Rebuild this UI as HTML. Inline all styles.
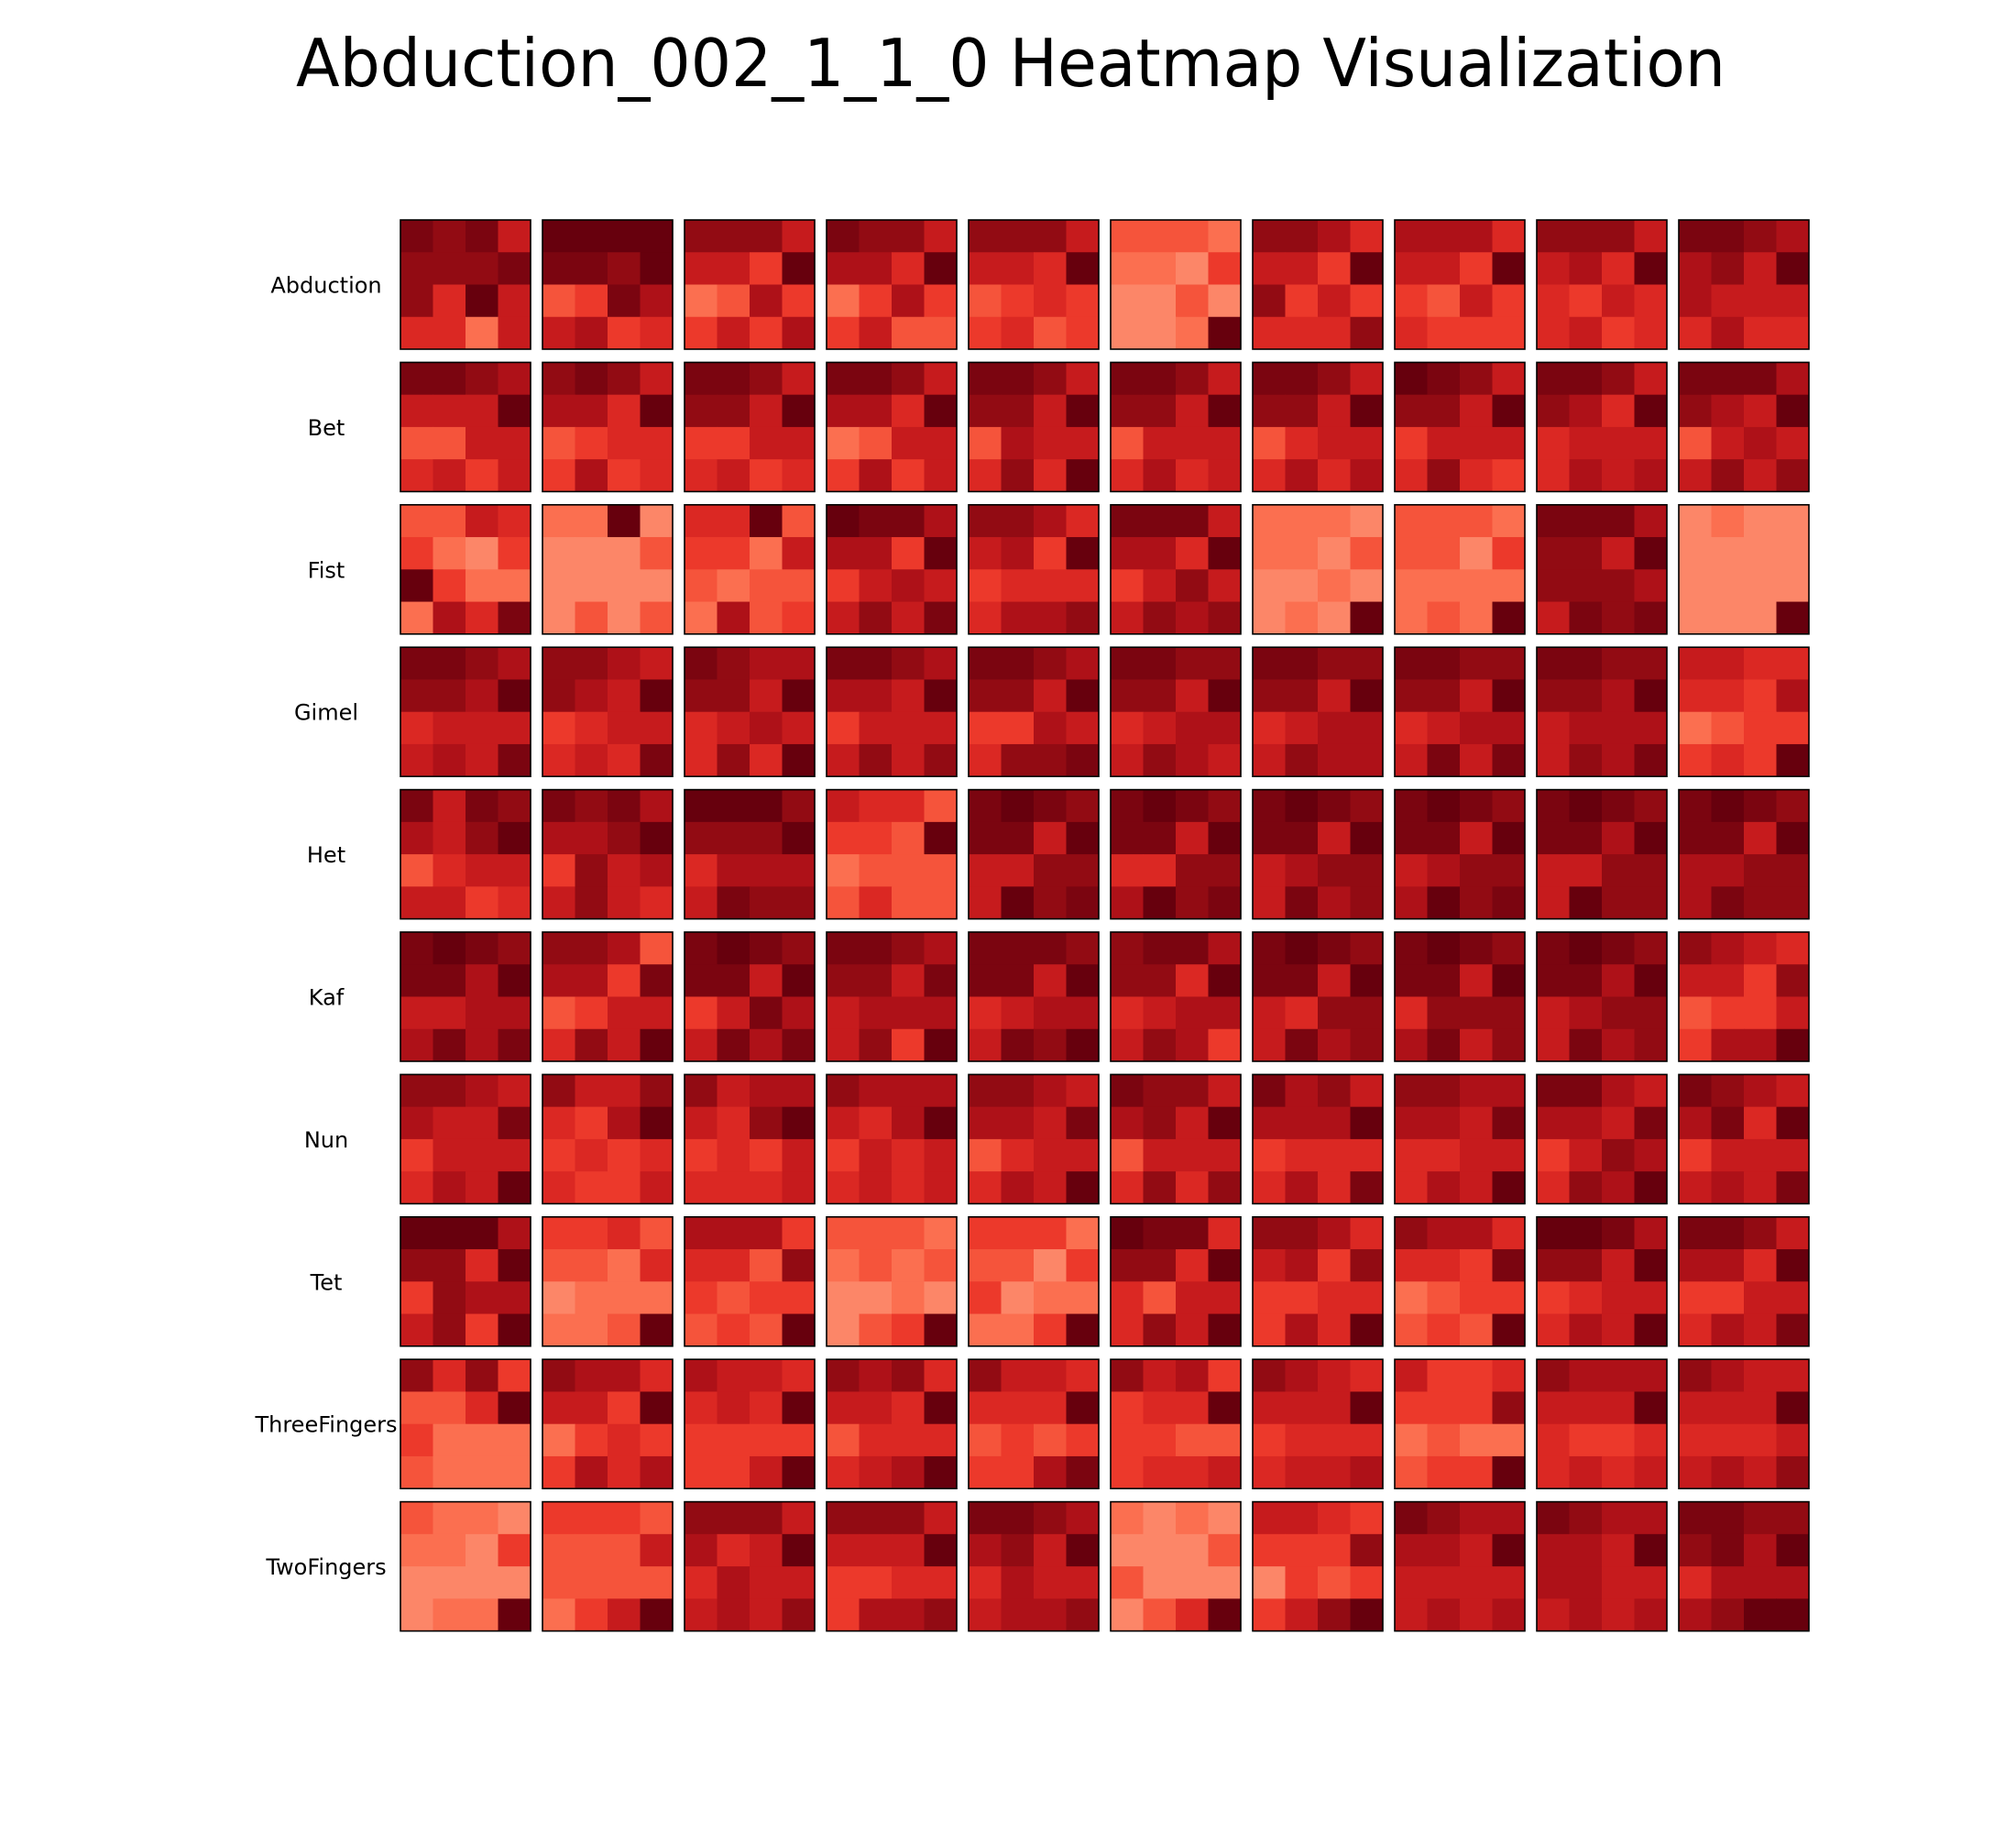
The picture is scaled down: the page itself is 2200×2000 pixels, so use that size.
<!DOCTYPE html>
<html><head><meta charset="utf-8"><style>
body{margin:0;background:#fff}
svg{display:block}
</style></head><body>
<svg id="chart" width="2200" height="2000" viewBox="0 0 2200 2000" xmlns="http://www.w3.org/2000/svg">
<rect width="2200" height="2000" fill="#fff"/>
<text x="1103" y="94" text-anchor="middle" font-family="DejaVu Sans, sans-serif" font-size="72" textLength="1560" lengthAdjust="spacingAndGlyphs" fill="#000">Abduction_002_1_1_0 Heatmap Visualization</text>
<g id="grid"></g>
</svg>
<script>
const rowLabels = ["Abduction","Bet","Fist","Gimel","Het","Kaf","Nun","Tet","ThreeFingers","TwoFingers"];
const abduction = ["8785777874954415","9999887923865634","7775553912633536","8775664913633522","7775554923433423","2221110300200019","7764553973534447","6664553932534333","7775564943544534","8876675965554644"];
const bet = ["8876555922554535","7875664923443634","8875775933554534","8875664912553635","8875775926554749","8875775925554645","8875775924554646","9875775935554743","8875764945554656","8886765925655757"];
const fist = ["2254310393111648","1190000200000202","4492331521221623","9886663935655758","7764563934444667","8885664935755767","1110110200100109","2221220311111219","8886775977765878","0100000000000009"];
const gimel = ["8876776945555658","7765765934554548","8766775945654749","8876665935555757","8876775933654778","8877775945665765","8877775945665766","8877775945665858","8877776956665768","5544443612333439"];
const het = ["8587657924555534","8786667937565754","9997777946665877","5442332912222422","8987885955775978","8987885944776978","8987885956775867","8987885956776978","8987886955775977","8987885966776877"];
const kaf = ["8987886955666868","7762663823554759","8987885935865868","8876775856665739","8887885945665879","7886774945665763","8987885954775867","8987885947776857","8987886956775867","7654553723353669"];
const nun = ["7765655835554659","7557436934344335","7566547934354445","7666546935454545","7765665824554659","8775675925554747","8675666934444648","7766665844554659","8865665835764769","8765684935555658"];
const tet = ["9996774937665739","3342221401111129","6663442732332329","2221121200100239","3331220330111139","9884774942554759","7764563733443649","7664443812332329","9986775934554659","8875664933554658"];
const threeFingers = ["7473224931112111","7664553913433646","6554454933333359","7674554924444569","7554444923233368","7563344933223445","7654555934444556","5334333712112339","7666555943344545","7655555944455657"];
const twoFingers = ["2110110300000119","3332222522221359","7775645946555657","7775555933443667","8876675946555667","1010000220000249","5543333703233579","8766665955555656","8766665966555656","8877786946666799"];
const matrix = [abduction,bet,fist,gimel,het,kaf,nun,tet,threeFingers,twoFingers];

const X0=437, XSTEP=155, PW=142, Y0=240, YSTEP=155.4, PH=141;
const stops=[[0.30,[252,164,135]],[0.4,[252,141,111]],[0.5,[251,106,74]],[0.6,[239,60,44]],[0.7,[213,34,33]],[0.8,[177,18,24]],[0.9,[134,8,17]],[1.0,[103,0,13]]];
function reds(t){
  for(let i=1;i<stops.length;i++){
    if(t<=stops[i][0]){const a=stops[i-1],b=stops[i],f=(t-a[0])/(b[0]-a[0]);
      return 'rgb('+a[1].map((v,k)=>Math.round(v+(b[1][k]-v)*f)).join(',')+')';}
  }
  return 'rgb(103,0,13)';
}
function colorOf(d){return reds(0.42+0.58*d/9);}
function xPanel(c){return X0+c*XSTEP;}
function yPanel(r){return Y0+r*YSTEP;}
const NS="http://www.w3.org/2000/svg";
const g=document.getElementById('grid');
rowLabels.forEach((lab,r)=>{
  const t=document.createElementNS(NS,'text');
  t.setAttribute('x',356);t.setAttribute('y',yPanel(r)+PH/2+9);
  t.setAttribute('text-anchor','middle');t.setAttribute('font-family','DejaVu Sans, sans-serif');
  t.setAttribute('font-size','24');t.textContent=lab;
  
  
  g.appendChild(t);
  matrix[r].forEach((panel,c)=>{
    const pg=document.createElementNS(NS,'g');
    
    
    const cw=PW/4, ch=PH/4;
    for(let i=0;i<16;i++){
      const d=+panel[i];
      const rc=document.createElementNS(NS,'rect');
      rc.setAttribute('x',(xPanel(c)+(i%4)*cw).toFixed(2));
      rc.setAttribute('y',(yPanel(r)+Math.floor(i/4)*ch).toFixed(2));
      rc.setAttribute('width',(cw+0.5).toFixed(2));rc.setAttribute('height',(ch+0.5).toFixed(2));
      rc.setAttribute('fill',colorOf(d));
      
      
      pg.appendChild(rc);
    }
    const b=document.createElementNS(NS,'rect');
    b.setAttribute('x',xPanel(c));b.setAttribute('y',yPanel(r));
    b.setAttribute('width',PW);b.setAttribute('height',PH);
    b.setAttribute('fill','none');b.setAttribute('stroke','#000');b.setAttribute('stroke-width','1.6');
    
    
    pg.appendChild(b);
    g.appendChild(pg);
  });
});
</script>
</body></html>
